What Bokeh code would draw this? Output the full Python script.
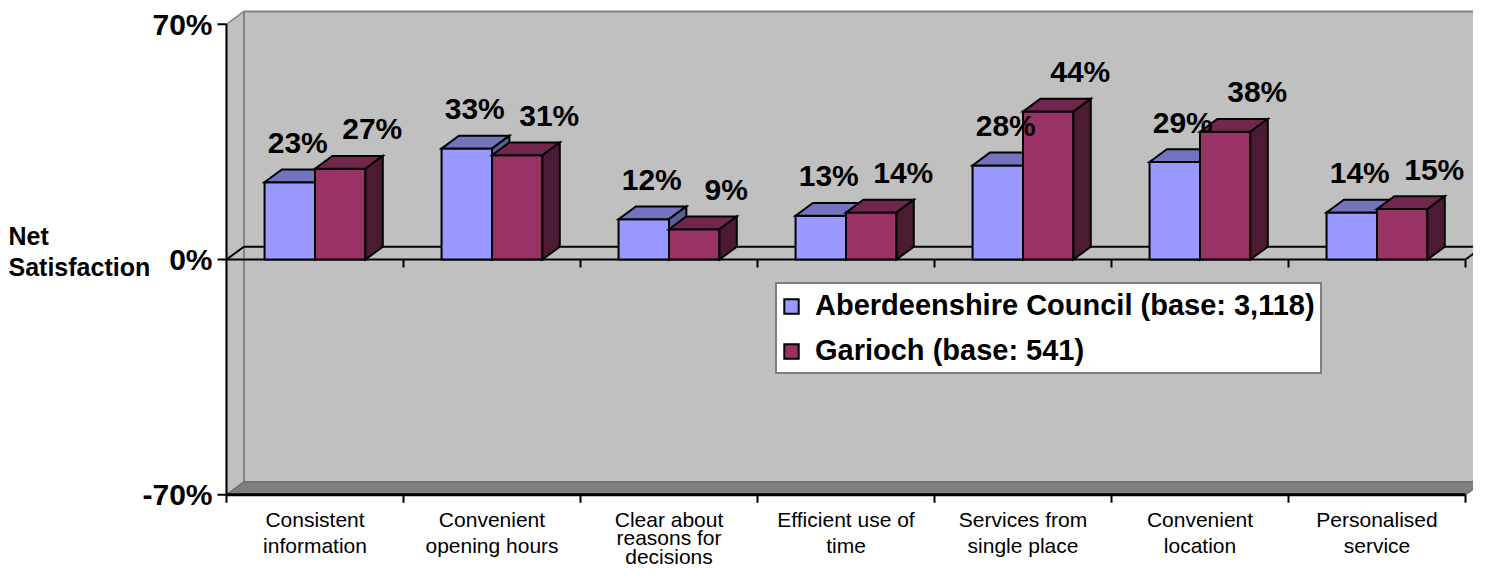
from bokeh.plotting import figure
from bokeh.models import Range1d, ColumnDataSource, Legend, LegendItem
from bokeh.embed import file_html
from bokeh.resources import INLINE
from bokeh.core.properties import value

# ---------------- data ----------------
categories = [
    "Consistent\ninformation",
    "Convenient\nopening hours",
    "Clear about\nreasons for\ndecisions",
    "Efficient use of\ntime",
    "Services from\nsingle place",
    "Convenient\nlocation",
    "Personalised\nservice",
]
aberdeenshire = [23, 33, 12, 13, 28, 29, 14]
garioch = [27, 31, 9, 14, 44, 38, 15]
series_names = ["Aberdeenshire Council (base: 3,118)", "Garioch (base: 541)"]
y_ticks = [-70, 0, 70]
y_tick_labels = ["-70%", "0%", "70%"]
y_title = ["Net", "Satisfaction"]

# ---------------- layout / style ----------------
FONT = "Liberation Sans"
W, H = 1473, 568
PX_X = 177.0          # pixels per category
PX_Y = 3.361          # pixels per percentage point
ORIGIN_X = 226        # canvas x of the front value axis
ORIGIN_Y = 259        # canvas y of the 0% line
DX, DY = 0.098, 3.8   # 3-D depth offset
Y_MIN, Y_MAX = y_ticks[0], y_ticks[-1]
N = len(categories)
BAR_W = 0.285
OFFSETS = [0.215, 0.5]
FRONT = ["#9999FF", "#993366"]
TOP = ["#7373BF", "#73264D"]
SIDE = ["#5C5C99", "#4D1A33"]
LABEL_DX = [8, 32]

x0r = -ORIGIN_X / PX_X
x1r = (W - ORIGIN_X) / PX_X
y1r = ORIGIN_Y / PX_Y
y0r = -(H - ORIGIN_Y) / PX_Y

p = figure(width=W, height=H, x_range=Range1d(x0r, x1r), y_range=Range1d(y0r, y1r),
           output_backend="svg", toolbar_location=None,
           x_axis_location=None, y_axis_location=None,
           min_border_left=0, min_border_right=0, min_border_top=0, min_border_bottom=0)
p.background_fill_color = "white"
p.border_fill_color = "white"
p.outline_line_color = None
p.xgrid.visible = False
p.ygrid.visible = False

# ---------------- walls / floor ----------------
p.quad(left=DX, right=N + DX, bottom=Y_MIN + DY, top=Y_MAX + DY,
       fill_color="#C0C0C0", line_color="#808080", line_width=2)
p.patch([0, DX, DX, 0], [Y_MIN, Y_MIN + DY, Y_MAX + DY, Y_MAX],
        fill_color="#C0C0C0", line_color="#808080", line_width=1.5)
p.patch([0, N, N + DX, DX], [Y_MIN, Y_MIN, Y_MIN + DY, Y_MIN + DY],
        fill_color="#808080", line_color="#6E6E6E", line_width=1.5)

# zero plane (category axis plane)
p.multi_line(xs=[[0, N], [DX, N + DX], [0, DX], [N, N + DX]],
             ys=[[0, 0], [DY, DY], [0, DY], [0, DY]],
             line_color="black", line_width=2)
bounds = list(range(0, N + 1))
tick_len_y = 8 / PX_Y
p.segment(x0=bounds[1:], x1=bounds[1:], y0=[0] * N, y1=[-tick_len_y] * N,
          line_color="black", line_width=2)

# ---------------- bars ----------------
front_renderers = []
for s, vals in enumerate([aberdeenshire, garioch]):
    x0 = [i + OFFSETS[s] for i in range(N)]
    x1 = [x + BAR_W for x in x0]
    fr = p.quad(left=x0, right=x1, bottom=[0] * N, top=vals,
                fill_color=FRONT[s], line_color="black", line_width=2, line_join="miter")
    front_renderers.append(fr)
    p.patches(xs=[[a, b, b + DX, a + DX] for a, b in zip(x0, x1)],
              ys=[[v, v, v + DY, v + DY] for v in vals],
              fill_color=TOP[s], line_color="black", line_width=2, line_join="miter")
    p.patches(xs=[[b, b + DX, b + DX, b] for b in x1],
              ys=[[0, DY, v + DY, v] for v in vals],
              fill_color=SIDE[s], line_color="black", line_width=2, line_join="miter")

for s, vals in enumerate([aberdeenshire, garioch]):
    src = ColumnDataSource(dict(x=[i + OFFSETS[s] + BAR_W / 2 for i in range(N)],
                                y=vals, t=[f"{v}%" for v in vals]))
    p.text(x="x", y="y", text="t", source=src, text_align="center",
           text_baseline="alphabetic", x_offset=LABEL_DX[s], y_offset=-40,
           text_font=value(FONT), text_font_size="30px", text_font_style="bold",
           text_color="black")

# ---------------- value axis (front left edge) ----------------
p.segment(x0=[0], x1=[0], y0=[Y_MIN], y1=[Y_MAX], line_color="black", line_width=2)
tick_len_x = 9 / PX_X
p.segment(x0=[0] * len(y_ticks), x1=[-tick_len_x] * len(y_ticks), y0=y_ticks, y1=y_ticks,
          line_color="black", line_width=2)
p.text(x=[0] * len(y_ticks), y=y_ticks, text=y_tick_labels, x_offset=-14,
       text_align="right", text_baseline="middle",
       text_font=value(FONT), text_font_size="30px", text_font_style="bold", text_color="black")
p.text(x=[x0r, x0r], y=[6.9, -2.3], text=y_title, x_offset=8,
       text_align="left", text_baseline="alphabetic",
       text_font=value(FONT), text_font_size="25px", text_font_style="bold", text_color="black")

# ---------------- category axis (front bottom edge) ----------------
p.segment(x0=[0], x1=[N], y0=[Y_MIN], y1=[Y_MIN], line_color="black", line_width=3)
p.segment(x0=bounds, x1=bounds, y0=[Y_MIN] * len(bounds), y1=[Y_MIN - tick_len_y] * len(bounds),
          line_color="black", line_width=2)
centers = [i + 0.5 for i in range(N)]
for lines_ok, lh in [(lambda c: c.count("\n") < 2, 1.12), (lambda c: c.count("\n") >= 2, 0.8)]:
    idx = [i for i, c in enumerate(categories) if lines_ok(c)]
    if not idx:
        continue
    p.text(x=[centers[i] for i in idx], y=[Y_MIN] * len(idx), text=[categories[i] for i in idx],
           y_offset=13, text_align="center", text_baseline="top", text_line_height=lh,
           text_font=value(FONT), text_font_size="21px", text_color="black")

# ---------------- legend ----------------
legend = Legend(items=[LegendItem(label=n, renderers=[r]) for n, r in zip(series_names, front_renderers)],
                location=(775, 194))
legend.label_text_font = FONT
legend.label_text_font_size = "29px"
legend.label_text_font_style = "bold"
legend.label_text_color = "black"
legend.glyph_width = 18
legend.glyph_height = 18
legend.label_standoff = 15
legend.spacing = 12
legend.padding = 5
legend.margin = 0
legend.border_line_color = "black"
legend.border_line_width = 2
legend.background_fill_color = "white"
legend.background_fill_alpha = 1
p.add_layout(legend)

open("out.html", "w").write(file_html(p, INLINE))
